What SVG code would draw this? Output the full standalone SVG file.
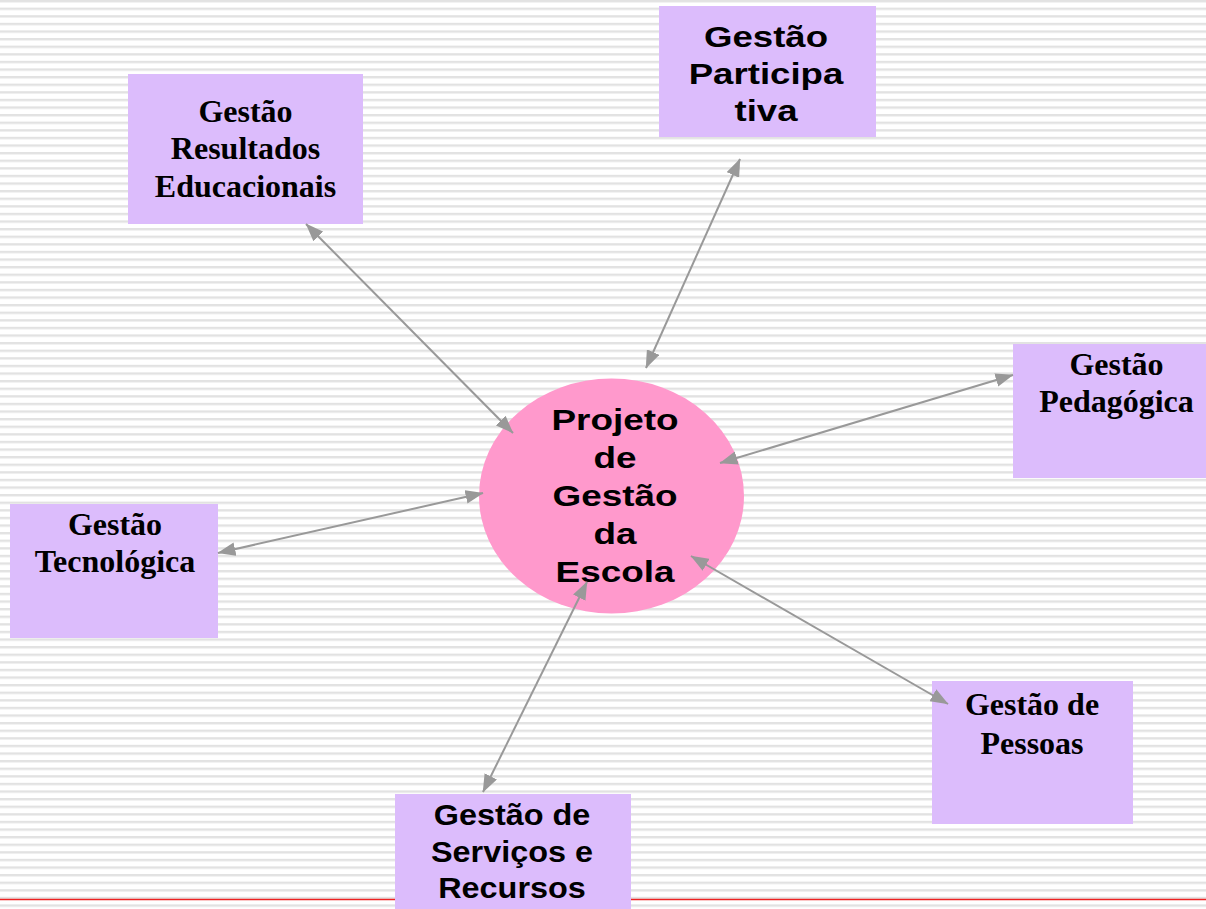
<svg xmlns="http://www.w3.org/2000/svg" width="1206" height="909" viewBox="0 0 1206 909">
  <defs>
    <pattern id="stripes" patternUnits="userSpaceOnUse" x="0" y="0" width="20" height="7.6">
      <rect x="0" y="0" width="20" height="2.4" fill="#e2e2e2"/>
    </pattern>
    <marker id="arr" markerUnits="userSpaceOnUse" markerWidth="18" markerHeight="14" viewBox="0 0 17 13" refX="16.5" refY="6.5" orient="auto-start-reverse">
      <path d="M0,0 L17,6.5 L0,13 z" fill="#999999"/>
    </marker>
  </defs>
  <style>
    .box { fill: #dcbcfc; }
    .serif { font-family: "Liberation Serif", "Times New Roman", serif; font-weight: bold; font-size: 32px; fill: #000; text-anchor: middle; }
    .sans { font-family: "Liberation Sans", Arial, sans-serif; font-weight: bold; font-size: 30px; fill: #000; text-anchor: middle; }
    .conn { stroke: #999999; stroke-width: 2; fill: none; marker-start: url(#arr); marker-end: url(#arr); }
  </style>

  <rect x="0" y="0" width="1206" height="909" fill="#ffffff"/>
  <rect x="0" y="0" width="1206" height="909" fill="url(#stripes)"/>
  <line x1="0" y1="899.5" x2="1206" y2="899.5" stroke="#ee2222" stroke-width="1.5"/>

  <g id="center">
    <ellipse cx="611.5" cy="496" rx="132.5" ry="117.5" fill="#ff99cc"/>
    <g transform="translate(615,0) scale(1.23,1)">
      <text class="sans" x="0" y="430">Projeto</text>
      <text class="sans" x="0" y="468">de</text>
      <text class="sans" x="0" y="506">Gestão</text>
      <text class="sans" x="0" y="544">da</text>
      <text class="sans" x="0" y="582">Escola</text>
    </g>
  </g>

  <g id="resultados">
    <rect class="box" x="128" y="74" width="235" height="150"/>
    <text class="serif" x="245.5" y="122">Gestão</text>
    <text class="serif" x="245.5" y="159">Resultados</text>
    <text class="serif" x="245.5" y="197">Educacionais</text>
  </g>

  <g id="participativa">
    <rect class="box" x="659" y="6" width="217" height="131"/>
    <g transform="translate(766,0) scale(1.22,1)">
      <text class="sans" x="0" y="47">Gestão</text>
      <text class="sans" x="0" y="84">Participa</text>
      <text class="sans" x="0" y="121">tiva</text>
    </g>
  </g>

  <g id="pedagogica">
    <rect class="box" x="1013" y="344" width="210" height="134"/>
    <text class="serif" x="1116.5" y="375">Gestão</text>
    <text class="serif" x="1116.5" y="412">Pedagógica</text>
  </g>

  <g id="tecnologica">
    <rect class="box" x="10" y="504" width="208" height="134"/>
    <text class="serif" x="115" y="535">Gestão</text>
    <text class="serif" x="115" y="572">Tecnológica</text>
  </g>

  <g id="pessoas">
    <rect class="box" x="932" y="681" width="201" height="143"/>
    <text class="serif" x="1032" y="715">Gestão de</text>
    <text class="serif" x="1032" y="754">Pessoas</text>
  </g>

  <g id="servicos">
    <rect class="box" x="395" y="794" width="236" height="140"/>
    <g transform="translate(512,0) scale(1.08,1)">
      <text class="sans" x="0" y="825">Gestão de</text>
      <text class="sans" x="0" y="862">Serviços e</text>
      <text class="sans" x="0" y="898">Recursos</text>
    </g>
  </g>

  <g id="connectors">
    <line class="conn" x1="306" y1="224" x2="513" y2="433"/>
    <line class="conn" x1="740" y1="159" x2="646" y2="368"/>
    <line class="conn" x1="1013" y1="375" x2="720" y2="463"/>
    <line class="conn" x1="483" y1="493" x2="218" y2="553"/>
    <line class="conn" x1="691" y1="556" x2="948" y2="704"/>
    <line class="conn" x1="587" y1="582" x2="483" y2="792"/>
  </g>
</svg>
